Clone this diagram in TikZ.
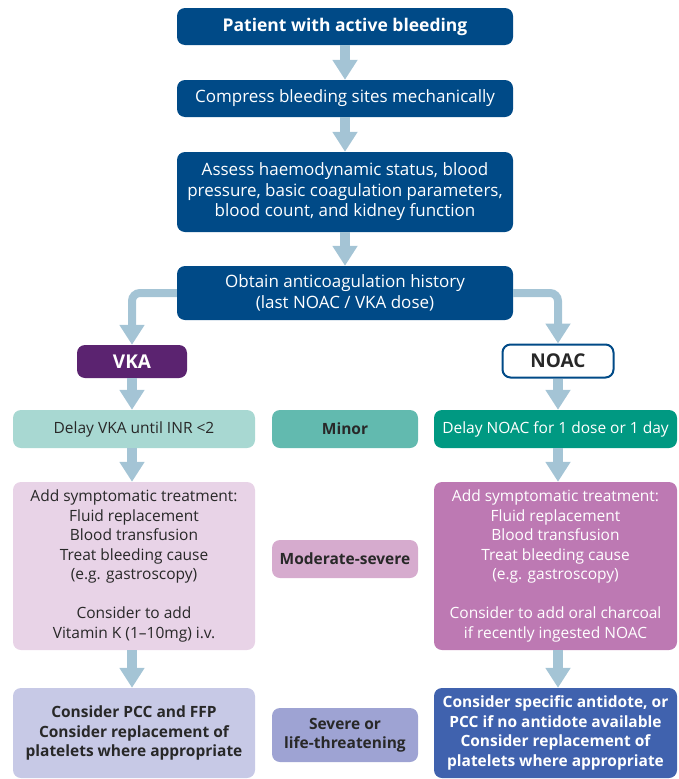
\documentclass[tikz,border=0pt]{standalone}
\usepackage{fontspec}
\setmainfont{Open Sans}
\usetikzlibrary{arrows.meta}

\definecolor{navy}{RGB}{0,74,135}
\definecolor{flowc}{RGB}{164,196,213}
\definecolor{ink}{RGB}{40,40,40}
\definecolor{vkac}{RGB}{91,35,112}
\definecolor{minl}{RGB}{168,216,210}
\definecolor{minm}{RGB}{98,186,175}
\definecolor{minr}{RGB}{0,153,130}
\definecolor{modl}{RGB}{232,211,231}
\definecolor{modm}{RGB}{214,171,206}
\definecolor{modr}{RGB}{189,121,179}
\definecolor{sevl}{RGB}{199,201,230}
\definecolor{sevm}{RGB}{158,163,211}
\definecolor{sevr}{RGB}{64,98,174}

\begin{document}
\begin{tikzpicture}[x=1pt,y=-1pt,
  box/.style={rectangle, rounded corners=8pt, align=center, inner sep=0pt,
    font=\fontsize{15.5}{19.5}\selectfont},
  bbox/.style={box, font=\bfseries\fontsize{15.5}{19.5}\selectfont},
  mainbox/.style={box, fill=navy, text=white, minimum width=336pt,
    font=\fontsize{17}{20.5}\selectfont},
  sidebox/.style={box, minimum width=242pt},
  midbox/.style={bbox, minimum width=146pt, text=ink},
  tagbox/.style={bbox, minimum height=33pt, font=\bfseries\fontsize{19}{20}\selectfont},
  flow/.style={draw=flowc, line width=10pt, -{Triangle[width=24pt,length=20pt]}},
  branch/.style={flow, line width=8pt, rounded corners=8pt}
]
\useasboundingbox (0,0) rectangle (679,779);

% main column
\node[mainbox, minimum height=37pt, font=\bfseries\fontsize{17.5}{20.5}\selectfont] (n1) at (345,26.5) {Patient with active bleeding};
\node[mainbox, minimum height=37pt] (n2) at (345,98.5) {Compress bleeding sites mechanically};
\node[mainbox, minimum height=80pt] (n3) at (345,192) {Assess haemodynamic status, blood\\pressure, basic coagulation parameters,\\blood count, and kidney function};
\node[mainbox, minimum height=54pt] (n4) at (345,293) {Obtain anticoagulation history\\(last NOAC / VKA dose)};

% drug class
\node[tagbox, fill=vkac, text=white, minimum width=110pt] (vka) at (132,361.5) {VKA};
\node[tagbox, fill=white, draw=navy, line width=2pt, text=ink, minimum width=111pt] (noac) at (558,361) {NOAC};

% minor bleeding
\node[sidebox, fill=minl, text=ink, minimum height=38pt] (dvka) at (134,429) {Delay VKA until INR <2};
\node[midbox, fill=minm, minimum height=38pt] (minor) at (345,429) {Minor};
\node[sidebox, fill=minr, text=white, minimum width=243pt, minimum height=38pt] (dnoac) at (555.5,429) {Delay NOAC for 1 dose or 1 day};

% moderate-severe bleeding
\node[sidebox, fill=modl, text=ink, minimum height=168pt] (mvka) at (134,566) {Add symptomatic treatment:\\Fluid replacement\\Blood transfusion\\Treat bleeding cause\\(e.g. gastroscopy)\\[19.5pt]Consider to add\\Vitamin K (1--10mg) i.v.};
\node[midbox, fill=modm, minimum height=38pt] (moder) at (345,559) {Moderate-severe};
\node[sidebox, fill=modr, text=white, minimum width=243pt, minimum height=168pt] (mnoac) at (555.5,566) {Add symptomatic treatment:\\Fluid replacement\\Blood transfusion\\Treat bleeding cause\\(e.g. gastroscopy)\\[19.5pt]Consider to add oral charcoal\\if recently ingested NOAC};

% severe or life-threatening bleeding
\node[sidebox, bbox, fill=sevl, text=ink, minimum height=90pt] (svka) at (134,733) {Consider PCC and FFP\\Consider replacement of\\platelets where appropriate};
\node[midbox, fill=sevm, minimum height=54pt] (sever) at (345,735) {Severe or\\life-threatening};
\node[sidebox, bbox, fill=sevr, text=white, minimum width=243pt, minimum height=90pt] (snoac) at (555.5,733) {Consider specific antidote, or\\PCC if no antidote available\\Consider replacement of\\platelets where appropriate};

% connectors
\draw[flow] (n1) -- (n2);
\draw[flow] (n2) -- (n3);
\draw[flow] (n3) -- (n4);
\draw[branch] (n4.west) -| (vka.north);
\draw[branch] (n4.east) -| (noac.north);
\draw[flow] (vka.south) -- (vka.south |- dvka.north);
\draw[flow] (noac.south) -- (noac.south |- dnoac.north);
\draw[flow] (vka.south |- dvka.south) -- (vka.south |- mvka.north);
\draw[flow] (noac.south |- dnoac.south) -- (noac.south |- mnoac.north);
\draw[flow] (vka.south |- mvka.south) -- (vka.south |- svka.north);
\draw[flow] (noac.south |- mnoac.south) -- (noac.south |- snoac.north);
\end{tikzpicture}
\end{document}
